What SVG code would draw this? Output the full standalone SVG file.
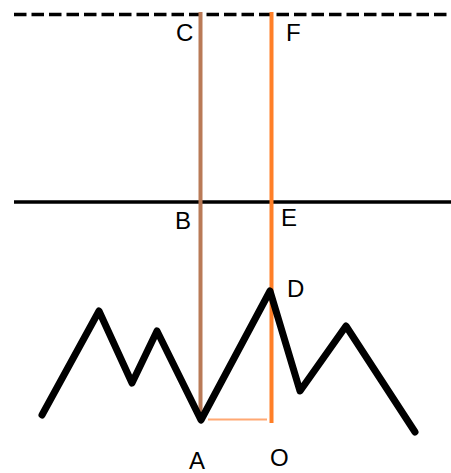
<svg xmlns="http://www.w3.org/2000/svg" width="451" height="473" viewBox="0 0 451 473">
<style>
.lbl{font-family:"Liberation Sans",Arial,sans-serif;font-size:24px;fill:#000}
.blk{stroke:#000;fill:none}
</style>
<rect width="451" height="473" fill="#fff"/>
<g id="lines">
<line id="dashed" class="blk" x1="14" y1="14.5" x2="451" y2="14.5" stroke-width="3.5" stroke-dasharray="12.5 5"/>
<line id="solid" class="blk" x1="14" y1="202" x2="451" y2="202" stroke-width="3.5"/>
<line id="AC" x1="200.5" y1="12" x2="200.5" y2="420" stroke="#B97A57" stroke-width="4"/>
<line id="OF" x1="271.5" y1="12" x2="271.5" y2="423" stroke="#FF7F27" stroke-width="4"/>
<line id="AO" x1="208" y1="419.5" x2="267" y2="419.5" stroke="#FFA873" stroke-width="2"/>
</g>
<g id="mountain">
<polyline class="blk" stroke-width="7" stroke-linejoin="round" stroke-linecap="round" points="42,415 99,311 132,383 157,331 201,420 270,291 300,391 346,326 415,432"/>
</g>
<g id="labels">
<text class="lbl" x="176" y="41">C</text>
<text class="lbl" x="286" y="41">F</text>
<text class="lbl" x="175" y="229">B</text>
<text class="lbl" x="281" y="226">E</text>
<text class="lbl" x="287" y="297">D</text>
<text class="lbl" x="189" y="469">A</text>
<text class="lbl" x="270" y="466">O</text>
</g>
</svg>
